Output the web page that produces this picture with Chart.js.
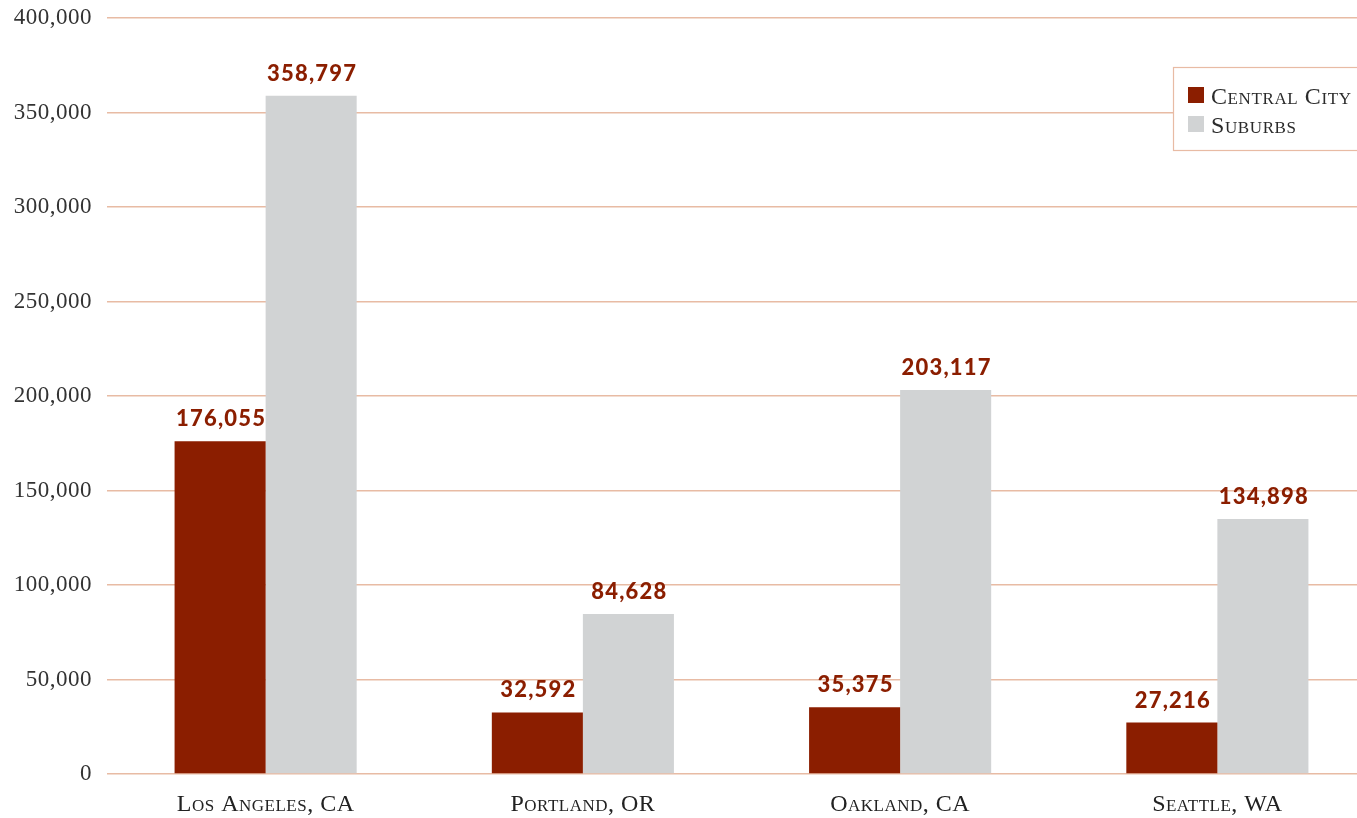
<!DOCTYPE html>
<html>
<head>
<meta charset="utf-8">
<script src="https://cdn.jsdelivr.net/npm/chart.js@4.4.1/dist/chart.umd.min.js"></script>
<style>
  html, body { margin: 0; padding: 0; background: #ffffff; overflow: hidden; width: 1357px; height: 818px; }
  #wrap { position: absolute; left: 0; top: 0; width: 1376px; height: 818px; }
</style>
</head>
<body>
<div id="wrap"><canvas id="c" width="1376" height="818"></canvas></div>
<script>
// ---- data ----
const categories = ['Los Angeles, CA', 'Portland, OR', 'Oakland, CA', 'Seattle, WA'];
const seriesNames = ['Central City', 'Suburbs'];
const centralCity = [176055, 32592, 35375, 27216];
const suburbs = [358797, 84628, 203117, 134898];
const yTickValues = [0, 50000, 100000, 150000, 200000, 250000, 300000, 350000, 400000];

// ---- styles ----
const RED = '#8B1E00';
const GRAY = '#D1D3D4';
const GRID = '#E8BBA4';
const SERIF = "'Liberation Serif', 'Times New Roman', serif";

const fmt = v => v.toLocaleString('en-US');

const spacing = {
  id: 'spacing',
  beforeDraw(chart) { chart.ctx.letterSpacing = '0.5px'; },
  afterDraw(chart) { chart.ctx.letterSpacing = '0px'; }
};

const dataLabels = {
  id: 'dataLabels',
  afterDatasetsDraw(chart) {
    const ctx = chart.ctx;
    ctx.save();
    ctx.fillStyle = RED;
    ctx.font = "900 22px Lato, 'DejaVu Sans', sans-serif";
    ctx.letterSpacing = '1.2px';
    ctx.textAlign = 'center';
    ctx.textBaseline = 'alphabetic';
    chart.data.datasets.forEach((ds, di) => {
      const meta = chart.getDatasetMeta(di);
      meta.data.forEach((bar, i) => {
        ctx.fillText(fmt(ds.data[i]), bar.x + 1, bar.y - 15);
      });
    });
    ctx.restore();
  }
};

const boxLegend = {
  id: 'boxLegend',
  afterDraw(chart) {
    const ctx = chart.ctx;
    ctx.save();
    const x0 = 1173.5, y0 = 67.5, w = 240, h = 83;
    ctx.fillStyle = '#ffffff';
    ctx.fillRect(x0, y0, w, h);
    ctx.strokeStyle = GRID;
    ctx.lineWidth = 1.2;
    ctx.strokeRect(x0, y0, w, h);
    const colors = chart.data.datasets.map(d => d.backgroundColor);
    ctx.font = "small-caps 24px " + SERIF;
    ctx.letterSpacing = '0.6px';
    ctx.textBaseline = 'alphabetic';
    ctx.textAlign = 'left';
    chart.data.datasets.forEach((ds, i) => {
      const yy = 87 + i * 29;
      ctx.fillStyle = colors[i];
      ctx.fillRect(1188, yy, 16, 16);
      ctx.fillStyle = '#2b2b2b';
      ctx.fillText(ds.label, 1211, yy + 17);
    });
    ctx.restore();
  }
};

new Chart(document.getElementById('c'), {
  type: 'bar',
  data: {
    labels: categories,
    datasets: [
      { label: seriesNames[0], data: centralCity, backgroundColor: RED },
      { label: seriesNames[1], data: suburbs, backgroundColor: GRAY }
    ]
  },
  options: {
    responsive: false,
    animation: false,
    devicePixelRatio: 1,
    layout: { padding: { top: 18, left: 0, right: 0, bottom: 0 } },
    datasets: { bar: { categoryPercentage: 0.574, barPercentage: 1.0 } },
    plugins: { legend: { display: false }, tooltip: { enabled: false } },
    scales: {
      x: {
        grid: { display: false },
        border: { display: false },
        ticks: {
          color: '#222222',
          padding: 8,
          font: { family: SERIF, size: 24, weight: 'small-caps' }
        },
        afterFit(scale) { scale.height = 44; scale.paddingLeft = 0; scale.paddingRight = 0; }
      },
      y: {
        min: 0,
        max: 400000,
        border: { display: false },
        grid: { color: GRID, lineWidth: 1.5, drawTicks: false },
        afterBuildTicks(scale) { scale.ticks = yTickValues.map(v => ({ value: v })); },
        ticks: {
          color: '#333333',
          padding: 15,
          font: { family: SERIF, size: 23 },
          callback: v => fmt(v)
        },
        afterFit(scale) { scale.width = 107; scale.paddingTop = 0; scale.paddingBottom = 0; }
      }
    }
  },
  plugins: [spacing, dataLabels, boxLegend]
});
</script>
</body>
</html>
